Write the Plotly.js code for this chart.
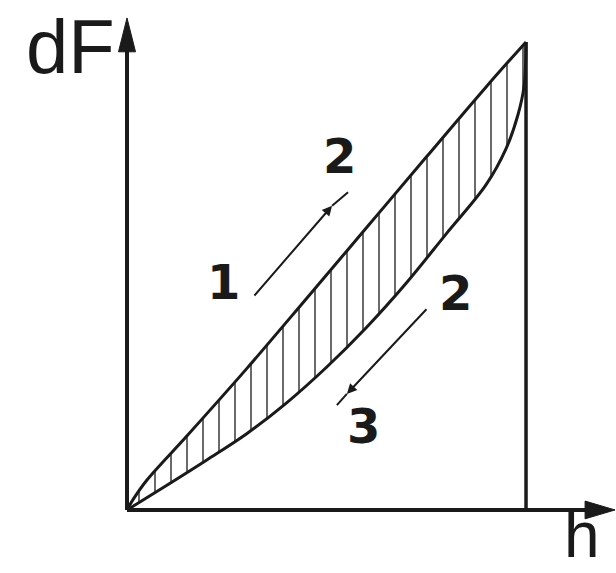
<!DOCTYPE html>
<html><head><meta charset="utf-8">
<script src="https://cdn.plot.ly/plotly-3.0.1.min.js"></script>
<style>html,body{margin:0;padding:0;background:#fff;}#chart{width:616px;height:573px;}</style>
</head><body><div id="chart"></div>
<script>
// Loading branch (1 -> 2): penetration depth h vs force dF (normalised)
const loadH = [0, 0.015, 0.05, 0.15, 0.3, 0.45, 0.6, 0.75, 0.9, 1];
const loadF = [0, 0.022, 0.064, 0.158, 0.302, 0.452, 0.603, 0.754, 0.904, 1];
// Unloading branch (2 -> 3)
const unloadH = [0, 0.1, 0.2, 0.3, 0.4, 0.5, 0.6, 0.7, 0.8, 0.9, 0.95, 0.98, 0.995, 1];
const unloadF = [0, 0.053, 0.107, 0.163, 0.229, 0.305, 0.39, 0.485, 0.59, 0.695, 0.772, 0.845, 0.905, 1];
const xLabel = 'h';
const yLabel = 'dF';
const stageLabels = ['1', '2', '2', '3'];

const peakH = loadH[loadH.length - 1];
const peakF = loadF[loadF.length - 1];
const ink = '#1a1a1a';

const traces = [
  { x: unloadH, y: unloadF, mode: 'lines', line: { color: ink, width: 3, shape: 'spline', smoothing: 1 }, hoverinfo: 'skip' },
  { x: loadH, y: loadF, mode: 'lines', line: { color: ink, width: 3, shape: 'spline', smoothing: 1 },
    fill: 'tonexty', fillcolor: 'rgba(0,0,0,0)',
    fillpattern: { shape: '|', size: 16, solidity: 0.1, fgcolor: '#444', bgcolor: 'rgba(0,0,0,0)' }, hoverinfo: 'skip' },
  { x: [peakH, peakH], y: [0, peakF], mode: 'lines', line: { color: ink, width: 3.5 }, hoverinfo: 'skip' }
];

const shapes = [
  { type: 'line', xref: 'x', yref: 'y', x0: 0, y0: 0, x1: 1.2, y1: 0, line: { color: ink, width: 4 } },
  { type: 'line', xref: 'x', yref: 'y', x0: 0, y0: 0, x1: 0, y1: 1.0, line: { color: ink, width: 4 } },
  { type: 'path', xref: 'x', yref: 'y', path: 'M -0.0213 0.979 L 0 1.0513 L 0.0213 0.979 Z', fillcolor: ink, line: { color: ink, width: 1 } },
  { type: 'path', xref: 'x', yref: 'y', path: 'M 1.148 -0.019 L 1.223 0 L 1.148 0.019 Z', fillcolor: ink, line: { color: ink, width: 1 } },
  { type: 'line', xref: 'x', yref: 'y', x0: 0.514, y0: 0.650, x1: 0.554, y1: 0.679, line: { color: ink, width: 2 } },
  { type: 'line', xref: 'x', yref: 'y', x0: 0.551, y0: 0.248, x1: 0.526, y1: 0.224, line: { color: ink, width: 2 } }
];

const digitFont = { family: 'DejaVu Sans, Arial, sans-serif', size: 48, color: ink, weight: 'bold' };
const annotations = [
  { xref: 'x', yref: 'y', x: 0.514, y: 0.650, ax: 0.316, ay: 0.455, axref: 'x', ayref: 'y', text: '', showarrow: true, arrowhead: 2, arrowsize: 1, arrowwidth: 2, arrowcolor: ink, standoff: 0 },
  { xref: 'x', yref: 'y', x: 0.551, y: 0.248, ax: 0.754, ay: 0.432, axref: 'x', ayref: 'y', text: '', showarrow: true, arrowhead: 2, arrowsize: 1, arrowwidth: 2, arrowcolor: ink, standoff: 0 },
  { xref: 'x', yref: 'y', x: 0.243, y: 0.487, text: '<b>' + stageLabels[0] + '</b>', showarrow: false, font: digitFont, xanchor: 'center', yanchor: 'middle' },
  { xref: 'x', yref: 'y', x: 0.532, y: 0.757, text: '<b>' + stageLabels[1] + '</b>', showarrow: false, font: digitFont, xanchor: 'center', yanchor: 'middle' },
  { xref: 'x', yref: 'y', x: 0.822, y: 0.464, text: '<b>' + stageLabels[2] + '</b>', showarrow: false, font: digitFont, xanchor: 'center', yanchor: 'middle' },
  { xref: 'x', yref: 'y', x: 0.593, y: 0.180, text: '<b>' + stageLabels[3] + '</b>', showarrow: false, font: digitFont, xanchor: 'center', yanchor: 'middle' },
  { xref: 'paper', yref: 'paper', x: -0.0898, y: 0.935, text: yLabel, showarrow: false, font: { family: 'Liberation Sans, Arial, sans-serif', size: 76, color: ink }, xanchor: 'center', yanchor: 'middle' },
  { xref: 'paper', yref: 'paper', x: 0.932, y: -0.022, text: xLabel, showarrow: false, font: { family: 'Liberation Sans, Arial, sans-serif', size: 64, color: ink }, xanchor: 'center', yanchor: 'middle' }
];

const layout = {
  width: 616, height: 573,
  margin: { l: 115, r: 0, t: 13, b: 49 },
  paper_bgcolor: '#fff', plot_bgcolor: '#fff',
  showlegend: false,
  xaxis: { range: [-0.0301, 1.2255], visible: false, fixedrange: true },
  yaxis: { range: [-0.03, 1.0619], visible: false, fixedrange: true },
  shapes: shapes,
  annotations: annotations
};

Plotly.newPlot('chart', traces, layout, { displayModeBar: false, staticPlot: true });
</script>
</body></html>
